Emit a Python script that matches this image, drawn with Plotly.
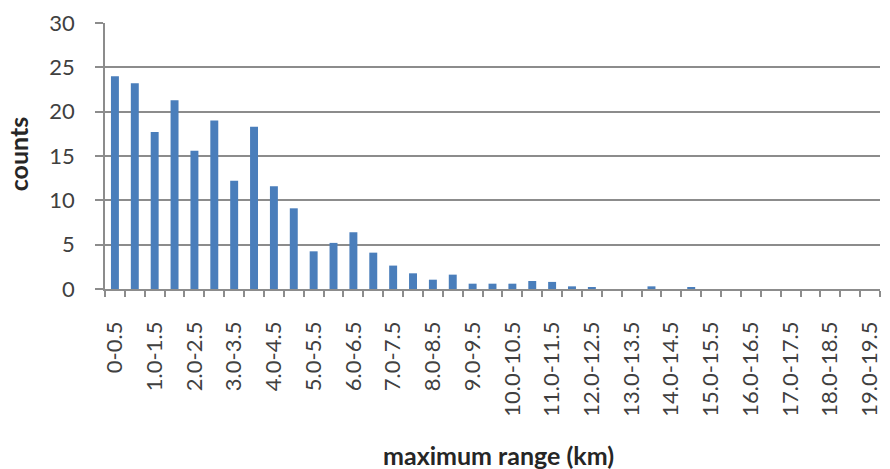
import plotly.graph_objects as go

categories = [f"{a:g}-{a+0.5:.1f}" if a == 0 else f"{a:.1f}-{a+0.5:.1f}" for a in [i * 0.5 for i in range(39)]]
counts = [24.0, 23.2, 17.7, 21.3, 15.6, 19.0, 12.2, 18.3, 11.6, 9.1,
          4.25, 5.2, 6.4, 4.1, 2.64, 1.77, 1.05, 1.62, 0.6, 0.6,
          0.6, 0.9, 0.8, 0.3, 0.15, 0, 0, 0.3, 0, 0.15,
          0, 0, 0, 0, 0, 0, 0, 0, 0]
y_ticks = [0, 5, 10, 15, 20, 25, 30]

x_idx = list(range(len(categories)))
label_idx = x_idx[::2]
label_text = [categories[i] for i in label_idx]

FONT = "Lato, 'Open Sans', sans-serif"
GRID = "#8c8c8c"
TXT = "#404040"

fig = go.Figure(go.Bar(
    x=x_idx, y=counts, marker=dict(color="#4a7ebb", line=dict(width=0)),
    width=0.4, hovertext=categories,
))

fig.update_layout(
    width=890, height=469,
    margin=dict(l=105, r=10, t=23, b=180, autoexpand=False),
    paper_bgcolor="white", plot_bgcolor="white",
    showlegend=False,
    font=dict(family=FONT, size=22, color=TXT),
    xaxis=dict(
        range=[-0.5, len(categories) - 0.5],
        tickmode="array", tickvals=label_idx, ticktext=label_text,
        tickangle=-90, ticks="", showgrid=False, zeroline=False,
        showline=True, linecolor=GRID, linewidth=1.5,
        ticklabelstandoff=22,
        tickfont=dict(size=22, family=FONT, color=TXT),
        minor=dict(tickmode="linear", tick0=-0.5, dtick=1, ticks="outside",
                   ticklen=6, tickcolor=GRID, tickwidth=1.5, showgrid=False),
        automargin=False,
    ),
    yaxis=dict(
        range=[0, 30], tickmode="array", tickvals=y_ticks,
        ticks="outside", ticklen=8, tickcolor=GRID, tickwidth=1.5,
        showgrid=True, gridcolor=GRID, gridwidth=1.5,
        zeroline=False, showline=True, linecolor=GRID, linewidth=1.5,
        ticklabelstandoff=16,
        tickfont=dict(size=22, family=FONT, color=TXT),
        automargin=False,
    ),
    annotations=[
        dict(text="<b>maximum range (km)</b>", xref="paper", yref="paper",
             x=0.508, y=-0.624, xanchor="center", yanchor="middle",
             showarrow=False, font=dict(size=25, family=FONT, color="#262626")),
        dict(text="<b>counts</b>", xref="paper", yref="paper",
             x=-0.112, y=0.5075, xanchor="center", yanchor="middle",
             textangle=-90, showarrow=False,
             font=dict(size=25, family=FONT, color="#262626")),
    ],
)

fig.write_html("out.html", config={"displayModeBar": False},
               post_script="document.body.style.margin='0';")
